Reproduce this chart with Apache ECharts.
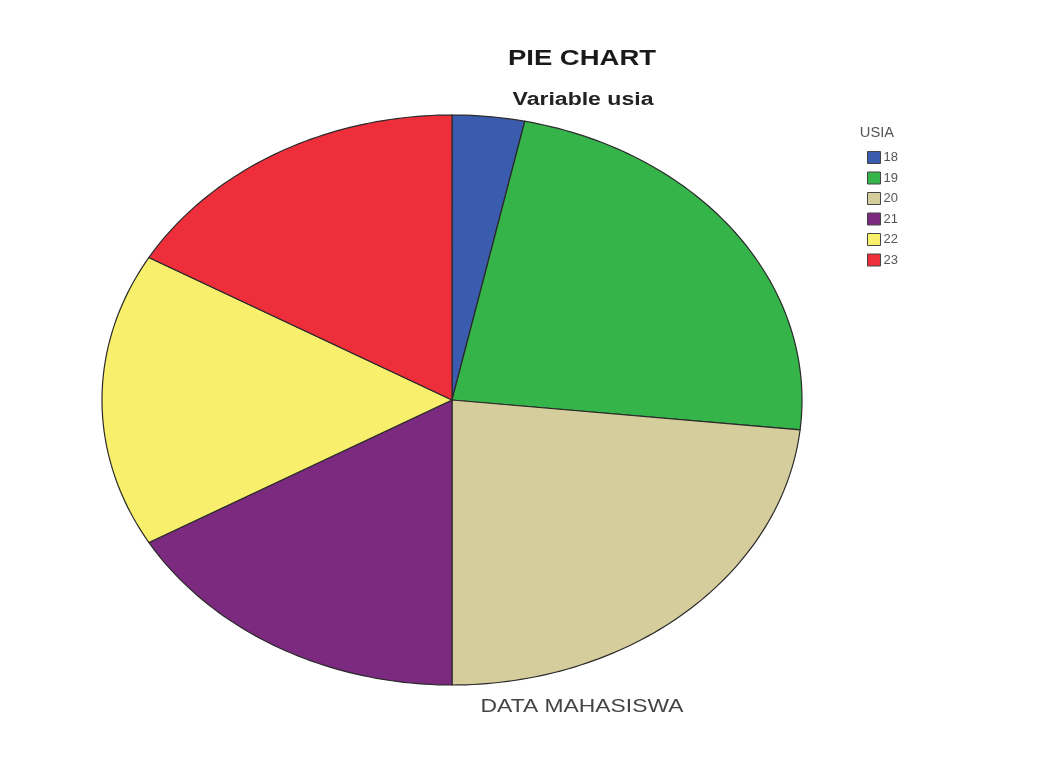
<!DOCTYPE html>
<html>
<head>
<meta charset="utf-8">
<script src="https://cdn.jsdelivr.net/npm/echarts@6/dist/echarts.min.js"></script>
<style>
  html, body { margin: 0; padding: 0; background: #fff; }
  #chart { width: 1056px; height: 773px; }
</style>
</head>
<body>
<div id="chart"></div>
<script>
// usia (age) groups and how many students in each
const ages = ["18", "19", "20", "21", "22", "23"];
const counts = [1, 7, 7, 5, 5, 5];
const colors = ["#3b5cae", "#35b44a", "#d6cd9c", "#7c2a80", "#f8ef6c", "#ee2f3b"];

const total = counts.reduce((a, b) => a + b, 0);
const startOf = (i) => counts.slice(0, i).reduce((a, b) => a + b, 0);

const chart = echarts.init(document.getElementById("chart"));

// ellipse-shaped pie: each slice is a custom series on a -1..1 grid
const makeSlice = (i) => ({
  name: ages[i],
  type: "custom",
  coordinateSystem: "cartesian2d",
  itemStyle: { color: colors[i] },
  data: [[0, 0, counts[i]]],
  renderItem: (params, api) => {
    const a0 = (startOf(i) / total) * Math.PI * 2;
    const a1 = a0 + (api.value(2) / total) * Math.PI * 2;
    const steps = Math.max(2, Math.ceil((a1 - a0) / 0.02));
    const points = [api.coord([0, 0])];
    for (let k = 0; k <= steps; k++) {
      const t = a0 + ((a1 - a0) * k) / steps;
      points.push(api.coord([Math.sin(t), Math.cos(t)]));
    }
    return {
      type: "polygon",
      shape: { points },
      style: { fill: colors[i], stroke: "#2a2a2a", lineWidth: 1.2 },
    };
  },
});

// the original picture is a bit stretched sideways, so the texts are too
const stretchedText = (text, x, y, size, weight, color, sx) => ({
  type: "text",
  x,
  y,
  scaleX: sx,
  style: {
    text,
    fill: color,
    font: `${weight} ${size}px "Liberation Sans", Arial, sans-serif`,
    textAlign: "center",
    textVerticalAlign: "top",
  },
});

const option = {
  backgroundColor: "#ffffff",
  animation: false,
  graphic: [
    stretchedText("PIE CHART", 582, 48, 22, "bold", "#1a1a1a", 1.25),
    stretchedText("Variable usia", 583, 91, 18, "bold", "#222", 1.28),
    stretchedText("DATA MAHASISWA", 582, 698, 18, "normal", "#444", 1.27),
    stretchedText("USIA", 877, 126, 14, "normal", "#555", 1.05),
  ],
  legend: {
    orient: "vertical",
    left: 867,
    top: 151,
    padding: 0,
    icon: "rect",
    itemWidth: 13,
    itemHeight: 12,
    itemGap: 7.5,
    data: ages,
    textStyle: { fontFamily: "Liberation Sans", fontSize: 13, color: "#555", padding: [0, 0, 0, -2] },
    itemStyle: { borderColor: "#444", borderWidth: 1 },
  },
  grid: { left: 102, top: 115, width: 700, height: 570 },
  xAxis: { type: "value", min: -1, max: 1, show: false },
  yAxis: { type: "value", min: -1, max: 1, show: false },
  series: ages.map((_, i) => makeSlice(i)),
};

chart.setOption(option);
</script>
</body>
</html>
